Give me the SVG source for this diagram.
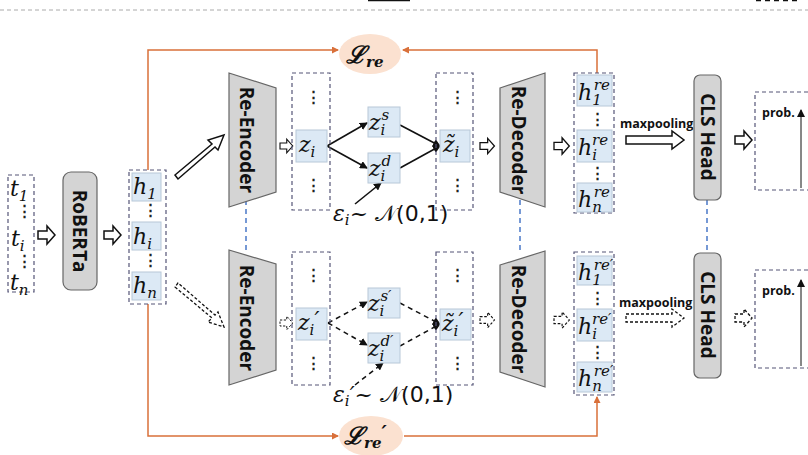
<svg xmlns="http://www.w3.org/2000/svg" width="808" height="455" viewBox="0 0 808 455">
<style>
.dbox{fill:none;stroke:#555577;stroke-width:1.2;stroke-dasharray:4 3}
.cell{fill:#dce9f5;stroke:#b8c8d8;stroke-width:1}
.m{font-family:"DejaVu Serif",serif;font-style:italic;font-size:22px;fill:#111}
.sub{font-size:15px}
.dots{font-family:"Liberation Sans",sans-serif;font-size:15px;font-weight:bold;fill:#222}
.blk{fill:#d4d4d4;stroke:#666;stroke-width:1.2}
.lbl{font-family:"Open Sans","Liberation Sans",sans-serif;font-weight:bold;font-size:19px;fill:#111}
.sm{font-family:"Open Sans","Liberation Sans",sans-serif;font-weight:bold;font-size:12.5px;fill:#111}
.or{fill:none;stroke:#d9703a;stroke-width:1.5}
.blue{stroke:#4a78c8;stroke-width:1.5;stroke-dasharray:5 4}
.hol{fill:#fff;stroke:#111;stroke-width:1.5}
.hold{fill:#fff;stroke:#111;stroke-width:1.3;stroke-dasharray:3 2}
.ar{stroke:#111;stroke-width:1.6;fill:none}
.ard{stroke:#111;stroke-width:1.5;fill:none;stroke-dasharray:5 4}
.ell{fill:#fbe1d0}
.L{font-family:"DejaVu Serif",serif;font-weight:bold;font-style:italic;font-size:24px;fill:#111}
</style>
<defs>
<marker id="ab" markerWidth="8" markerHeight="8" refX="7" refY="4" orient="auto" markerUnits="userSpaceOnUse"><path d="M0,0 L8,4 L0,8 Z" fill="#111"/></marker>
<marker id="ao" markerWidth="7" markerHeight="7" refX="6" refY="3.5" orient="auto" markerUnits="userSpaceOnUse"><path d="M0,0 L7,3.5 L0,7 Z" fill="#d9703a"/></marker>
<path id="hz" d="M0,-4 H9 V-9 L17,0 L9,9 V4 H0 Z"/>
</defs>
<line x1="0" y1="10" x2="808" y2="10" stroke="#aaa" stroke-width="1" stroke-dasharray="4 3"/>
<line x1="368" y1="0.5" x2="410" y2="0.5" stroke="#111" stroke-width="1.5"/>
<line x1="756" y1="0.5" x2="798" y2="0.5" stroke="#111" stroke-width="1.5" stroke-dasharray="5 4"/>

<g id="connectors">
<path class="or" d="M148,170 V50 H338" marker-end="url(#ao)"/>
<path class="or" d="M597,73 V50 H403" marker-end="url(#ao)"/>
<path class="or" d="M148,304 V436 H338" marker-end="url(#ao)"/>
<path class="or" d="M404,436 H597 V397" marker-end="url(#ao)"/>
<line class="blue" x1="246" y1="200" x2="246" y2="252"/>
<line class="blue" x1="520" y1="200" x2="520" y2="252"/>
<line class="blue" x1="707" y1="200" x2="707" y2="253"/>
<use href="#hz" class="hol" transform="translate(38,235)"/>
<use href="#hz" class="hol" transform="translate(104,235)"/>
<path class="hol" d="M175,175 L212,144 L208,140 L224,135 L218,150 L215,147 L178,179 Z"/>
<path class="hold" d="M175,287 L212,318 L208,322 L224,327 L218,312 L215,315 L178,283 Z"/>
<use href="#hz" class="hol" transform="translate(280,146) scale(0.75)"/>
<use href="#hz" class="hol" transform="translate(480,146) scale(0.85)"/>
<use href="#hz" class="hol" transform="translate(554,146) scale(0.9)"/>
<use href="#hz" class="hold" transform="translate(280,323) scale(0.75)"/>
<use href="#hz" class="hold" transform="translate(480,320) scale(0.85)"/>
<use href="#hz" class="hold" transform="translate(554,320) scale(0.9)"/>
<use href="#hz" class="hol" transform="translate(735,140)"/>
<use href="#hz" class="hold" transform="translate(735,318)"/>
<path class="hol" d="M626,136 H672 V131 L684,140 L672,149 V144 H626 Z"/>
<path class="hold" d="M626,314 H672 V309 L684,318 L672,327 V322 H626 Z"/>
<line class="ar" x1="327" y1="146" x2="367" y2="123" marker-end="url(#ab)"/>
<line class="ar" x1="327" y1="146" x2="367" y2="168" marker-end="url(#ab)"/>
<line class="ar" x1="400" y1="125" x2="440" y2="146" marker-end="url(#ab)"/>
<line class="ar" x1="400" y1="168" x2="440" y2="146" marker-end="url(#ab)"/>
<line class="ar" x1="355" y1="204" x2="381" y2="183" marker-end="url(#ab)"/>
<line class="ard" x1="328" y1="323" x2="367" y2="302" marker-end="url(#ab)"/>
<line class="ard" x1="328" y1="323" x2="367" y2="345" marker-end="url(#ab)"/>
<line class="ard" x1="400" y1="303" x2="440" y2="324" marker-end="url(#ab)"/>
<line class="ard" x1="400" y1="346" x2="440" y2="324" marker-end="url(#ab)"/>
<line class="ard" x1="355" y1="385" x2="383" y2="363" marker-end="url(#ab)"/>
</g>

<g id="tokens">
<rect class="dbox" x="8" y="175" width="26" height="117"/>
<text class="m" x="10" y="196">t<tspan class="sub" dy="5">1</tspan></text>
<text class="dots" x="17" y="216">⋮</text>
<text class="m" x="11" y="246">t<tspan class="sub" dy="5">i</tspan></text>
<text class="dots" x="17" y="266">⋮</text>
<text class="m" x="10" y="290">t<tspan class="sub" dy="5">n</tspan></text>
</g>
<g id="roberta">
<rect class="blk" x="63" y="172" width="34" height="118" rx="8"/>
<text class="lbl" transform="translate(73,231) rotate(90)" text-anchor="middle">RoBERTa</text>
</g>
<g id="hcol">
<rect class="dbox" x="129" y="170" width="37" height="134"/>
<rect class="cell" x="132" y="173" width="29" height="28"/>
<rect class="cell" x="132" y="222" width="29" height="28"/>
<rect class="cell" x="132" y="272" width="29" height="28"/>
<text class="m" x="133" y="194">h<tspan class="sub" dy="5">1</tspan></text>
<text class="m" x="133" y="244">h<tspan class="sub" dy="5">i</tspan></text>
<text class="m" x="133" y="293">h<tspan class="sub" dy="5">n</tspan></text>
<text class="dots" x="143" y="215">⋮</text>
<text class="dots" x="143" y="265">⋮</text>
</g>
<g id="lre">
<ellipse class="ell" cx="370" cy="54" rx="31" ry="20"/>
<text class="L" x="346" y="63">ℒ<tspan font-size="15" dy="4">re</tspan></text>
</g>
<g id="lre2">
<ellipse class="ell" cx="371" cy="436" rx="32" ry="20"/>
<text class="L" x="344" y="444">ℒ<tspan font-size="15" dy="4">re</tspan><tspan dy="-8" font-size="20">′</tspan></text>
</g>
<g id="enc1">
<path class="blk" d="M229,73 L276,88 L276,192 L229,207 Z"/>
<text class="lbl" transform="translate(240,140) rotate(90)" text-anchor="middle">Re-Encoder</text>
</g>
<g id="enc2">
<path class="blk" d="M229,250 L276,264 L276,370 L229,385 Z"/>
<text class="lbl" transform="translate(240,318) rotate(90)" text-anchor="middle">Re-Encoder</text>
</g>
<g id="zcol1">
<rect class="dbox" x="292" y="73" width="38" height="137"/>
<text class="dots" x="306" y="102">⋮</text>
<rect class="cell" x="296" y="130" width="31" height="32"/>
<text class="m" x="299" y="152">z<tspan class="sub" dy="5">i</tspan></text>
<text class="dots" x="306" y="190">⋮</text>
</g>
<g id="zsd1">
<rect class="cell" x="368" y="107" width="32" height="30"/>
<text class="m" x="369" y="130">z<tspan class="sub" dy="5">i</tspan><tspan class="sub" dx="-4" dy="-15">s</tspan></text>
<rect class="cell" x="368" y="153" width="32" height="30"/>
<text class="m" x="369" y="176">z<tspan class="sub" dy="5">i</tspan><tspan class="sub" dx="-4" dy="-15">d</tspan></text>
<text class="m" x="333" y="221" font-size="20">ε<tspan class="sub" dy="4">i</tspan><tspan dy="-4">~</tspan><tspan font-family="DejaVu Sans" font-style="normal"> 𝒩(0,1)</tspan></text>
</g>
<g id="ztcol1">
<rect class="dbox" x="436" y="73" width="37" height="137"/>
<text class="dots" x="450" y="102">⋮</text>
<rect class="cell" x="440" y="130" width="30" height="32"/>
<text class="m" x="443" y="152">z̃<tspan class="sub" dy="5">i</tspan></text>
<text class="dots" x="450" y="190">⋮</text>
</g>
<g id="dec1">
<path class="blk" d="M500,88 L545,73 L545,207 L500,192 Z"/>
<text class="lbl" transform="translate(512,140) rotate(90)" text-anchor="middle">Re-Decoder</text>
</g>
<g id="hre1">
<rect class="dbox" x="574" y="73" width="40" height="140"/>
<rect class="cell" x="577" y="75" width="35" height="31"/>
<rect class="cell" x="577" y="130" width="35" height="32"/>
<rect class="cell" x="577" y="183" width="35" height="29"/>
<text class="m" x="578" y="100">h<tspan class="sub" dy="5">1</tspan><tspan class="sub" dx="-8" dy="-15">re</tspan></text>
<text class="m" x="578" y="155">h<tspan class="sub" dy="5">i</tspan><tspan class="sub" dx="-5" dy="-15">re</tspan></text>
<text class="m" x="578" y="207">h<tspan class="sub" dy="5">n</tspan><tspan class="sub" dx="-8" dy="-15">re</tspan></text>
<text class="dots" x="590" y="124">⋮</text>
<text class="dots" x="590" y="178">⋮</text>
</g>
<text class="sm" x="620" y="128">maxpooling</text>
<g id="cls1">
<rect class="blk" x="694" y="75" width="27" height="125" rx="6"/>
<text class="lbl" transform="translate(701,137) rotate(90)" text-anchor="middle">CLS Head</text>
</g>
<g id="prob1">
<path class="dbox" d="M808,92 H755 V190 H808"/>
<text class="sm" x="762" y="117" font-size="13">prob.</text>
<line x1="801" y1="188" x2="801" y2="110" stroke="#111" stroke-width="1" marker-end="url(#ab)"/>
</g>

<g id="zcol2">
<rect class="dbox" x="292" y="252" width="38" height="133"/>
<text class="dots" x="306" y="280">⋮</text>
<rect class="cell" x="296" y="308" width="31" height="32"/>
<text class="m" x="298" y="330">z<tspan class="sub" dy="5">i</tspan><tspan dy="-8">′</tspan></text>
<text class="dots" x="306" y="368">⋮</text>
</g>
<g id="zsd2">
<rect class="cell" x="368" y="288" width="32" height="30"/>
<text class="m" x="368" y="311">z<tspan class="sub" dy="5">i</tspan><tspan class="sub" dx="-4" dy="-15">s′</tspan></text>
<rect class="cell" x="368" y="333" width="32" height="30"/>
<text class="m" x="368" y="356">z<tspan class="sub" dy="5">i</tspan><tspan class="sub" dx="-4" dy="-15">d′</tspan></text>
<text class="m" x="333" y="402" font-size="20">ε<tspan class="sub" dy="4">i</tspan><tspan dy="-4">′~</tspan><tspan font-family="DejaVu Sans" font-style="normal"> 𝒩(0,1)</tspan></text>
</g>
<g id="ztcol2">
<rect class="dbox" x="436" y="252" width="37" height="133"/>
<text class="dots" x="450" y="280">⋮</text>
<rect class="cell" x="440" y="309" width="31" height="31"/>
<text class="m" x="442" y="331">z̃<tspan class="sub" dy="5">i</tspan><tspan dy="-8">′</tspan></text>
<text class="dots" x="450" y="368">⋮</text>
</g>
<g id="dec2">
<path class="blk" d="M500,265 L545,251 L545,387 L500,372 Z"/>
<text class="lbl" transform="translate(512,319) rotate(90)" text-anchor="middle">Re-Decoder</text>
</g>
<g id="hre2">
<rect class="dbox" x="574" y="252" width="40" height="143"/>
<rect class="cell" x="577" y="256" width="35" height="29"/>
<rect class="cell" x="577" y="309" width="35" height="32"/>
<rect class="cell" x="577" y="362" width="35" height="30"/>
<text class="m" x="578" y="280">h<tspan class="sub" dy="5">1</tspan><tspan class="sub" dx="-8" dy="-15">re′</tspan></text>
<text class="m" x="578" y="334">h<tspan class="sub" dy="5">i</tspan><tspan class="sub" dx="-5" dy="-15">re′</tspan></text>
<text class="m" x="578" y="386">h<tspan class="sub" dy="5">n</tspan><tspan class="sub" dx="-8" dy="-15">re′</tspan></text>
<text class="dots" x="590" y="303">⋮</text>
<text class="dots" x="590" y="357">⋮</text>
</g>
<text class="sm" x="619" y="307">maxpooling</text>
<g id="cls2">
<rect class="blk" x="694" y="253" width="27" height="125" rx="6"/>
<text class="lbl" transform="translate(701,315) rotate(90)" text-anchor="middle">CLS Head</text>
</g>
<g id="prob2">
<path class="dbox" d="M808,270 H755 V368 H808"/>
<text class="sm" x="762" y="295" font-size="13">prob.</text>
<line x1="801" y1="366" x2="801" y2="280" stroke="#111" stroke-width="1" marker-end="url(#ab)"/>
</g>
</svg>
